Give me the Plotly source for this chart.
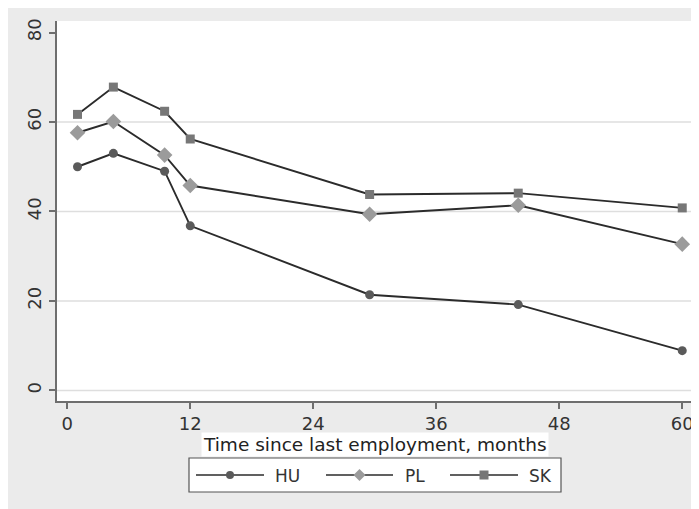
import plotly.graph_objects as go

# ---- data ----
months = [1, 4.5, 9.5, 12, 29.5, 44, 60]
hu = [50.0, 53.0, 49.0, 36.8, 21.4, 19.2, 8.9]
pl = [57.6, 60.1, 52.6, 45.8, 39.4, 41.4, 32.7]
sk = [61.7, 67.8, 62.4, 56.2, 43.8, 44.1, 40.8]
series_names = ["HU", "PL", "SK"]
x_ticks = [0, 12, 24, 36, 48, 60]
y_ticks = [0, 20, 40, 60, 80]
grid_vals = [0, 20, 40, 60]
x_title = "Time since last employment, months"

# page body has an 8px margin; figure is placed at (8, 8)
OFF = 8
W, H = 691, 501
L, R, T, B = 49, 6, 13, 108
PW, PH = W - L - R, H - T - B

def xp(px):  # px in page (reference) coordinates
    return (px - OFF - L) / PW

def yp(py):
    return (H - B - (py - OFF)) / PH

FONT = "DejaVu Sans"
line_col = "#2b2b2b"
marker_cols = ["#5a5a5a", "#9b9b9b", "#777777"]
symbols = ["circle", "diamond", "square"]
msizes = [9, 12, 9]

fig = go.Figure()
for name, vals, col, sym, ms in zip(series_names, [hu, pl, sk], marker_cols, symbols, msizes):
    fig.add_trace(go.Scatter(
        x=months, y=vals, name=name, mode="lines+markers",
        line=dict(color=line_col, width=1.9),
        marker=dict(symbol=sym, size=ms, color=col, line=dict(width=0)),
        showlegend=False, cliponaxis=False,
    ))

shapes = []
# gridlines
for g in grid_vals:
    shapes.append(dict(type="line", xref="paper", yref="y", x0=0, x1=1, y0=g, y1=g,
                       line=dict(color="#dedede", width=1.5), layer="below"))

# custom legend
shapes.append(dict(type="rect", xref="paper", yref="paper", x0=xp(189), x1=xp(561), y0=yp(458), y1=yp(492),
                   fillcolor="white", line=dict(color="#555555", width=1.2)))
leg_y = 475
leg_items = [(196, 264, 273), (326, 393, 403), (450, 518, 527)]
annotations = []
for (lx0, lx1, tx), name, col, sym in zip(leg_items, series_names, marker_cols, symbols):
    shapes.append(dict(type="line", xref="paper", yref="paper", x0=xp(lx0), x1=xp(lx1),
                       y0=yp(leg_y), y1=yp(leg_y), line=dict(color=line_col, width=1.5)))
    cx = (lx0 + lx1) / 2
    if sym == "circle":
        r = 4
        shapes.append(dict(type="circle", xref="paper", yref="paper", x0=xp(cx - r), x1=xp(cx + r),
                           y0=yp(leg_y - r), y1=yp(leg_y + r), fillcolor=col, line=dict(width=0)))
    elif sym == "square":
        r = 4.5
        shapes.append(dict(type="rect", xref="paper", yref="paper", x0=xp(cx - r), x1=xp(cx + r),
                           y0=yp(leg_y - r), y1=yp(leg_y + r), fillcolor=col, line=dict(width=0)))
    else:
        r = 6
        path = "M {} {} L {} {} L {} {} L {} {} Z".format(
            xp(cx - r), yp(leg_y), xp(cx), yp(leg_y - r), xp(cx + r), yp(leg_y), xp(cx), yp(leg_y + r))
        shapes.append(dict(type="path", xref="paper", yref="paper", path=path, fillcolor=col, line=dict(width=0)))
    annotations.append(dict(text=name, xref="paper", yref="paper", x=xp(tx), y=yp(leg_y + 1),
                            xanchor="left", yanchor="middle", showarrow=False,
                            font=dict(family=FONT, size=17, color="#333333")))

# axis title with white background
annotations.append(dict(text=x_title, xref="paper", yref="paper", x=xp(375), y=yp(444),
                        xanchor="center", yanchor="middle", showarrow=False, bgcolor="white", borderpad=1,
                        font=dict(family=FONT, size=18.5, color="#222222")))

fig.update_layout(
    width=W, height=H,
    margin=dict(l=L, r=R, t=T, b=B, pad=0),
    paper_bgcolor="#ebebeb",
    plot_bgcolor="white",
    shapes=shapes,
    annotations=annotations,
    showlegend=False,
    xaxis=dict(range=[-1.0, 61.05], tickvals=x_ticks, showgrid=False, zeroline=False,
               showline=True, linecolor="#6e6e6e", linewidth=1.5,
               ticks="outside", ticklen=6, tickwidth=1.5, tickcolor="#6e6e6e",
               tickfont=dict(family=FONT, size=18, color="#333333"),
               ticklabelstandoff=0),
    yaxis=dict(range=[-2.35, 82.57], tickvals=y_ticks, showgrid=False, zeroline=False,
               showline=True, linecolor="#6e6e6e", linewidth=1.5,
               ticks="outside", ticklen=6, tickwidth=1.5, tickcolor="#6e6e6e", tickangle=-90,
               tickfont=dict(family=FONT, size=18, color="#333333"),
               ticklabelstandoff=1),
)

fig.write_html("out.html")
